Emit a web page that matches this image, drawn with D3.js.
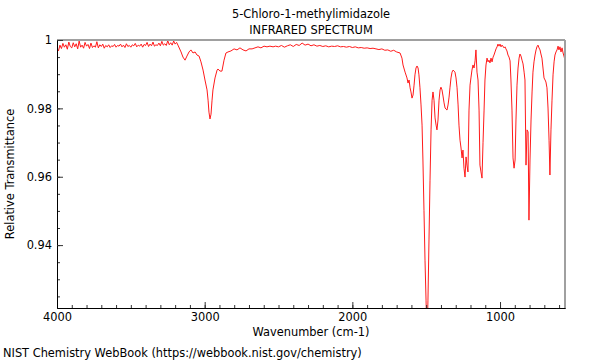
<!DOCTYPE html>
<html>
<head>
<meta charset="utf-8">
<script src="https://cdn.jsdelivr.net/npm/d3@7"></script>
<style>
  html, body { margin: 0; padding: 0; background: #fff; }
  svg { display: block; font-family: "DejaVu Sans", sans-serif; }
</style>
</head>
<body>
<svg id="chart" width="600" height="360"></svg>
<script>
const titleLines = ["5-Chloro-1-methylimidazole", "INFRARED SPECTRUM"];
const xLabel = "Wavenumber (cm-1)";
const yLabel = "Relative Transmittance";
const footer = "NIST Chemistry WebBook (https://webbook.nist.gov/chemistry)";

const xMajorTicks = [4000, 3000, 2000, 1000];
const yMajorTicks = [0.94, 0.96, 0.98, 1];
const xDomain = [4000, 560];
const yDomain = [0.9216, 1];

const wavenumber = [
  4000,3990,3980,3970,3960,3950,3940,3930,3920,3910,3900,3890,3880,3870,3860,3850,3840,3830,3820,3810,
  3800,3790,3780,3770,3760,3750,3740,3730,3720,3710,3700,3690,3680,3670,3660,3650,3640,3630,3620,3610,
  3600,3590,3580,3570,3560,3550,3540,3530,3520,3510,3500,3490,3480,3470,3460,3450,3440,3430,3420,3410,
  3400,3390,3380,3370,3360,3350,3340,3330,3320,3310,3300,3290,3280,3270,3260,3250,3240,3230,3220,3210,
  3200,3190,3181,3160,3147,3133,3120,3106,3093,3079,3065,3052,3038,3025,3011,2998,2984,2977,2971,2964,
  2957,2950,2944,2930,2916,2910,2896,2883,2869,2856,2842,2822,2801,2781,2761,2740,2720,2700,2679,2659,
  2639,2619,2598,2578,2558,2537,2520,2500,2480,2460,2440,2420,2400,2380,2360,2340,2320,2300,2280,2260,
  2240,2220,2200,2180,2160,2140,2120,2100,2080,2060,2040,2020,2000,1980,1960,1940,1920,1900,1880,1860,
  1840,1820,1800,1780,1760,1740,1720,1700,1677,1664,1657,1643,1630,1623,1616,1609,1603,1596,1589,1582,
  1576,1569,1562,1555,1549,1542,1535,1528,1522,1515,1508,1501,1494,1488,1481,1474,1467,1460,1454,1447,
  1440,1433,1427,1420,1413,1406,1400,1393,1386,1379,1372,1366,1359,1352,1345,1339,1332,1325,1318,1311,
  1305,1298,1291,1284,1278,1271,1264,1257,1251,1244,1237,1230,1224,1217,1210,1203,1197,1190,1183,1176,
  1169,1163,1156,1149,1142,1136,1129,1122,1115,1108,1102,1095,1088,1081,1075,1068,1061,1054,1047,1041,
  1034,1027,1020,1014,1007,1000,993,987,980,973,966,960,953,946,939,932,926,919,912,905,
  898,892,885,878,871,865,858,851,844,837,831,824,817,810,804,797,790,783,777,770,
  763,756,750,743,736,729,723,716,709,702,695,689,682,675,668,662,655,648,641,634,
  628,621,614,607,601,594,587,580,573,567,560
];

const transmittance = [
  0.9978,0.9968,0.9985,0.9975,0.9990,0.9979,0.9986,0.9973,0.9994,0.9981,0.9977,0.9992,0.9980,0.9989,0.9974,0.9997,0.9979,0.9985,0.9976,0.9993,
  0.9982,0.9987,0.9975,0.9991,0.9978,0.9983,0.9979,0.9995,0.9977,0.9986,0.9981,0.9988,0.9976,0.9984,0.9980,0.9986,0.9978,0.9983,0.9981,0.9987,
  0.9979,0.9984,0.9982,0.9988,0.9980,0.9985,0.9978,0.9989,0.9981,0.9984,0.9979,0.9986,0.9983,0.9990,0.9980,0.9985,0.9982,0.9988,0.9979,0.9987,
  0.9984,0.9993,0.9981,0.9988,0.9983,0.9994,0.9982,0.9986,0.9984,0.9991,0.9983,0.9996,0.9985,0.9989,0.9984,0.9998,0.9986,0.9992,0.9985,0.9997,
  0.9988,0.9993,0.9985,0.9965,0.9950,0.9941,0.9953,0.9965,0.9971,0.9962,0.9965,0.9956,0.9953,0.9936,0.9912,0.9883,0.9854,0.9824,0.9789,0.9769,
  0.9783,0.9824,0.9854,0.9889,0.9912,0.9915,0.9909,0.9909,0.9941,0.9962,0.9965,0.9968,0.9974,0.9971,0.9977,0.9971,0.9968,0.9974,0.9974,0.9977,
  0.9980,0.9977,0.9982,0.9980,0.9982,0.9980,0.9982,0.9980,0.9984,0.9979,0.9983,0.9986,0.9981,0.9987,0.9984,0.9991,0.9985,0.9988,0.9983,0.9986,
  0.9982,0.9984,0.9981,0.9983,0.9980,0.9982,0.9981,0.9983,0.9980,0.9981,0.9979,0.9981,0.9978,0.9980,0.9977,0.9978,0.9976,0.9977,0.9975,0.9976,
  0.9974,0.9972,0.9974,0.9970,0.9971,0.9967,0.9970,0.9965,0.9962,0.9947,0.9927,0.9906,0.9889,0.9874,0.9883,0.9860,0.9848,0.9830,0.9839,0.9868,
  0.9898,0.9918,0.9924,0.9918,0.9898,0.9860,0.9810,0.9751,0.9649,0.9502,0.9356,0.9239,0.9120,0.9239,0.9415,0.9590,0.9737,0.9824,0.9848,0.9824,
  0.9772,0.9751,0.9737,0.9766,0.9824,0.9854,0.9862,0.9854,0.9836,0.9816,0.9801,0.9798,0.9795,0.9810,0.9833,0.9860,0.9889,0.9906,0.9912,0.9909,
  0.9906,0.9889,0.9860,0.9810,0.9751,0.9707,0.9684,0.9655,0.9678,0.9625,0.9599,0.9658,0.9634,0.9614,0.9795,0.9868,0.9889,0.9912,0.9927,0.9918,
  0.9939,0.9971,0.9906,0.9883,0.9795,0.9634,0.9614,0.9596,0.9701,0.9795,0.9883,0.9927,0.9947,0.9936,0.9941,0.9933,0.9947,0.9936,0.9950,0.9956,
  0.9965,0.9974,0.9980,0.9988,0.9982,0.9988,0.9980,0.9985,0.9982,0.9977,0.9980,0.9974,0.9968,0.9956,0.9950,0.9939,0.9883,0.9795,0.9655,0.9625,
  0.9649,0.9766,0.9868,0.9918,0.9947,0.9959,0.9953,0.9941,0.9930,0.9906,0.9883,0.9634,0.9737,0.9731,0.9473,0.9649,0.9766,0.9848,0.9906,0.9936,
  0.9956,0.9971,0.9980,0.9985,0.9977,0.9971,0.9959,0.9947,0.9918,0.9889,0.9883,0.9877,0.9860,0.9801,0.9707,0.9605,0.9737,0.9824,0.9898,0.9936,
  0.9956,0.9965,0.9971,0.9982,0.9971,0.9980,0.9965,0.9977,0.9962,0.9953,0.9941
];

const W = 600, H = 360;
const margin = { left: 57, right: 35, top: 40, bottom: 52 };
const pw = W - margin.left - margin.right;
const ph = H - margin.top - margin.bottom;
const FS = "11.4px";

const svg = d3.select("#chart");
const x = d3.scaleLinear().domain(xDomain).range([0, pw]);
const y = d3.scaleLinear().domain(yDomain).range([ph, 0]);

const g = svg.append("g").attr("transform", `translate(${margin.left},${margin.top})`);

g.append("clipPath").attr("id", "clip").append("rect")
  .attr("x", 0).attr("y", 0).attr("width", pw).attr("height", ph);

const points = wavenumber.map((w, i) => [w, transmittance[i]]);
g.append("path")
  .datum(points)
  .attr("clip-path", "url(#clip)")
  .attr("fill", "none")
  .attr("stroke", "#ff1a1a")
  .attr("stroke-width", 1)
  .attr("stroke-linejoin", "round")
  .attr("d", d3.line().x(d => x(d[0])).y(d => y(d[1])));

// frame top / right (gray)
g.append("line").attr("x1", 0).attr("x2", pw).attr("y1", 0).attr("y2", 0)
  .attr("stroke", "#a0a0a0").attr("stroke-width", 2);
g.append("line").attr("x1", pw).attr("x2", pw).attr("y1", 0).attr("y2", ph)
  .attr("stroke", "#a0a0a0").attr("stroke-width", 2);

const xMinor = d3.range(4000, 559, -100);
const yMinor = d3.range(0.925, 1.0001, 0.005);

const xAxis = d3.axisBottom(x).tickValues(xMajorTicks).tickSizeInner(-6).tickSizeOuter(0)
  .tickPadding(5).tickFormat(d3.format("d"));
const xAxisMinor = d3.axisBottom(x).tickValues(xMinor).tickSizeInner(-3).tickSizeOuter(0).tickFormat("");
const yAxis = d3.axisLeft(y).tickValues(yMajorTicks).tickSizeInner(-6).tickSizeOuter(0)
  .tickPadding(5).tickFormat(d => d === 1 ? "1" : d.toFixed(2));
const yAxisMinor = d3.axisLeft(y).tickValues(yMinor).tickSizeInner(-3).tickSizeOuter(0).tickFormat("");

function styleAxis(sel) {
  sel.select(".domain").attr("stroke", "#000").attr("stroke-width", 1);
  sel.selectAll(".tick line").attr("stroke", "#333");
  sel.selectAll(".tick text").attr("fill", "#000").style("font-size", FS)
    .style("font-family", "DejaVu Sans, sans-serif");
}

g.append("g").attr("transform", `translate(0,${ph})`).call(xAxisMinor).call(styleAxis);
g.append("g").attr("transform", `translate(0,${ph})`).call(xAxis).call(styleAxis);
g.append("g").call(yAxisMinor).call(styleAxis);
g.append("g").call(yAxis).call(styleAxis);

svg.append("text").attr("x", margin.left + pw / 2).attr("y", 18).attr("text-anchor", "middle")
  .style("font-size", FS).text(titleLines[0]);
svg.append("text").attr("x", margin.left + pw / 2).attr("y", 34).attr("text-anchor", "middle")
  .style("font-size", FS).text(titleLines[1]);

svg.append("text").attr("x", margin.left + pw / 2).attr("y", 336).attr("text-anchor", "middle")
  .style("font-size", FS).text(xLabel);

svg.append("text").attr("transform", `translate(14,${margin.top + ph / 2}) rotate(-90)`)
  .attr("text-anchor", "middle").style("font-size", FS).text(yLabel);

svg.append("text").attr("x", 3).attr("y", 357).style("font-size", FS).text(footer);
</script>
</body>
</html>
